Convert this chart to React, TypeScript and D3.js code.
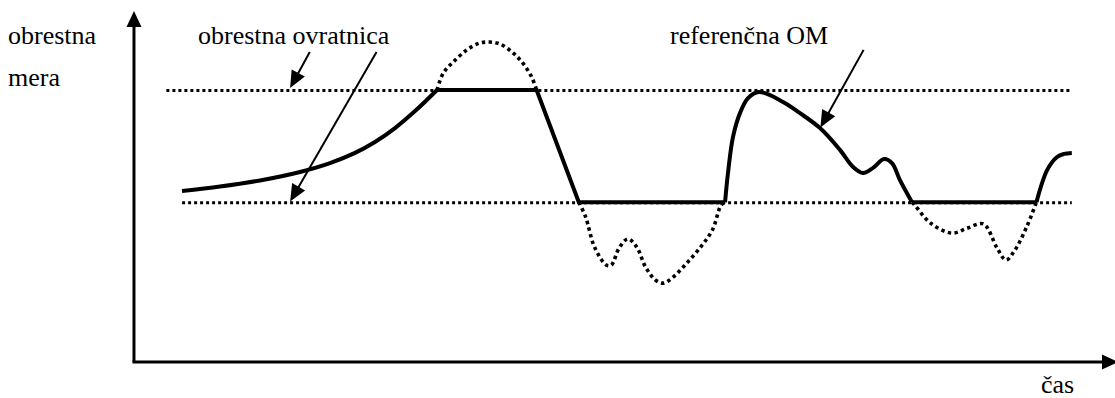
import React from "react";
import * as d3 from "d3";

// time (0..100) and interest-rate (0..10) units
const CAP = 8.0;
const FLOOR = 4.7;

const solidRise1: [number, number][] = [
  [4.99, 5.03], [8.86, 5.16], [12.93, 5.34], [17.01, 5.59], [20.06, 5.85], [22.61, 6.15],
  [24.64, 6.47], [26.68, 6.88], [28.72, 7.38], [30.96, 8.0],
];
const solidLinear: [number, number][] = [
  [30.96, 8.0], [41.1, 8.0], [45.4, 4.7], [60.3, 4.7],
];
const solidMid: [number, number][] = [
  [60.29, 4.7], [60.59, 5.56], [61.1, 6.62], [61.81, 7.32], [62.63, 7.76], [63.75, 7.94],
  [66.19, 7.65], [67.92, 7.32], [69.96, 6.88], [71.99, 6.24], [73.32, 5.74], [74.34, 5.56],
  [75.36, 5.71], [76.48, 5.97], [77.29, 5.85], [78.1, 5.35], [79.33, 4.7],
];
const solidFlat2: [number, number][] = [[79.33, 4.7], [92.0, 4.7]];
const solidEnd: [number, number][] = [
  [92.0, 4.7], [93.1, 5.65], [94.1, 6.03], [94.8, 6.12], [95.6, 6.15],
];

const dottedHump: [number, number][] = [
  [30.96, 8.0], [31.6, 8.5], [32.6, 8.82], [34.0, 9.18], [35.3, 9.38], [36.3, 9.41],
  [37.4, 9.35], [38.7, 9.09], [39.7, 8.79], [40.6, 8.38], [41.1, 8.0],
];
const dottedDip1: [number, number][] = [
  [45.4, 4.7], [46.1, 4.26], [47.0, 3.38], [48.2, 2.85], [48.7, 2.85], [49.5, 3.35],
  [50.4, 3.62], [51.3, 3.38], [52.2, 2.79], [53.2, 2.41], [54.0, 2.32], [54.9, 2.47],
  [56.4, 2.91], [57.8, 3.38], [59.0, 3.88], [59.9, 4.62], [60.3, 4.7],
];
const dottedDip2: [number, number][] = [
  [79.33, 4.7], [79.6, 4.62], [81.2, 4.09], [83.4, 3.79], [85.0, 3.94], [86.6, 4.06],
  [88.0, 3.35], [88.9, 3.0], [89.8, 3.29], [91.0, 3.97], [92.0, 4.7],
];

const capStart = 3.4;
const floorStart = 5.0;
const limitEnd = 95.6;

// annotation arrows: [fromT, fromR, toT, toR]
const arrows: [number, number, number, number][] = [
  [18.0, 9.12, 16.0, 8.06],
  [24.8, 9.12, 16.0, 4.72],
  [74.4, 9.18, 70.0, 6.9],
];

const labels: { text: string; px: number; py: number }[] = [
  { text: "obrestna", px: 8, py: 44 },
  { text: "mera", px: 8, py: 86 },
  { text: "obrestna ovratnica", px: 198, py: 44 },
  { text: "referenčna OM", px: 670, py: 44 },
  { text: "čas", px: 1041, py: 393 },
];

const W = 1115;
const H = 398;

export default function App() {
  const x = d3.scaleLinear().domain([0, 100]).range([133, 1115]);
  const y = d3.scaleLinear().domain([0, 10]).range([362, 22]);

  const curve = d3.line<[number, number]>().x((d) => x(d[0])).y((d) => y(d[1])).curve(d3.curveCatmullRom.alpha(0.5));
  const straight = d3.line<[number, number]>().x((d) => x(d[0])).y((d) => y(d[1]));

  const axisX0 = x(0.1);
  const axisY0 = y(0);

  const arrowHead = (x1: number, y1: number, x2: number, y2: number, len: number, half: number) => {
    const a = Math.atan2(y2 - y1, x2 - x1);
    const bx = x2 - len * Math.cos(a);
    const by = y2 - len * Math.sin(a);
    const px = -Math.sin(a) * half;
    const py = Math.cos(a) * half;
    return `${x2},${y2} ${bx + px},${by + py} ${bx - px},${by - py}`;
  };

  return (
    <svg width={W} height={H} style={{ position: "absolute", left: 0, top: 0, background: "#fff" }}>
      {/* axes */}
      <line x1={axisX0} y1={axisY0} x2={axisX0} y2={26} stroke="#000" strokeWidth={3} />
      <polygon points={arrowHead(axisX0, axisY0, axisX0, 11, 16, 7.5)} fill="#000" />
      <line x1={axisX0 - 1.5} y1={axisY0} x2={1102} y2={axisY0} stroke="#000" strokeWidth={3} />
      <polygon points={arrowHead(axisX0, axisY0, 1118, axisY0, 16, 7.5)} fill="#000" />

      {/* cap and floor */}
      <line x1={x(capStart)} x2={x(limitEnd)} y1={y(CAP) + 0.5} y2={y(CAP) + 0.5} stroke="#000" strokeWidth={3} strokeDasharray="3 3" />
      <line x1={x(floorStart)} x2={x(limitEnd)} y1={y(FLOOR) + 0.5} y2={y(FLOOR) + 0.5} stroke="#000" strokeWidth={3} strokeDasharray="3 3" />

      {/* reference rate beyond the collar (dotted) */}
      {[dottedHump, dottedDip1, dottedDip2].map((d, i) => (
        <path key={i} d={curve(d) || ""} fill="none" stroke="#000" strokeWidth={3.6} strokeDasharray="3.4 3.4" />
      ))}

      {/* collared rate (solid) */}
      <path d={curve(solidRise1) || ""} fill="none" stroke="#000" strokeWidth={4} />
      <path d={straight(solidLinear) || ""} fill="none" stroke="#000" strokeWidth={4} />
      <path d={curve(solidMid) || ""} fill="none" stroke="#000" strokeWidth={4} />
      <path d={straight(solidFlat2) || ""} fill="none" stroke="#000" strokeWidth={4} />
      <path d={curve(solidEnd) || ""} fill="none" stroke="#000" strokeWidth={4} />

      {/* annotation arrows */}
      {arrows.map(([t1, r1, t2, r2], i) => {
        const x1 = x(t1), y1 = y(r1), x2 = x(t2), y2 = y(r2);
        const a = Math.atan2(y2 - y1, x2 - x1);
        return (
          <g key={i}>
            <line x1={x1} y1={y1} x2={x2 - 12 * Math.cos(a)} y2={y2 - 12 * Math.sin(a)} stroke="#000" strokeWidth={2} />
            <polygon points={arrowHead(x1, y1, x2, y2, 17, 7.5)} fill="#000" />
          </g>
        );
      })}

      {/* labels */}
      {labels.map((l, i) => (
        <text key={i} x={l.px} y={l.py} fontFamily="Liberation Serif" fontSize="26px" fill="#000">
          {l.text}
        </text>
      ))}
    </svg>
  );
}
